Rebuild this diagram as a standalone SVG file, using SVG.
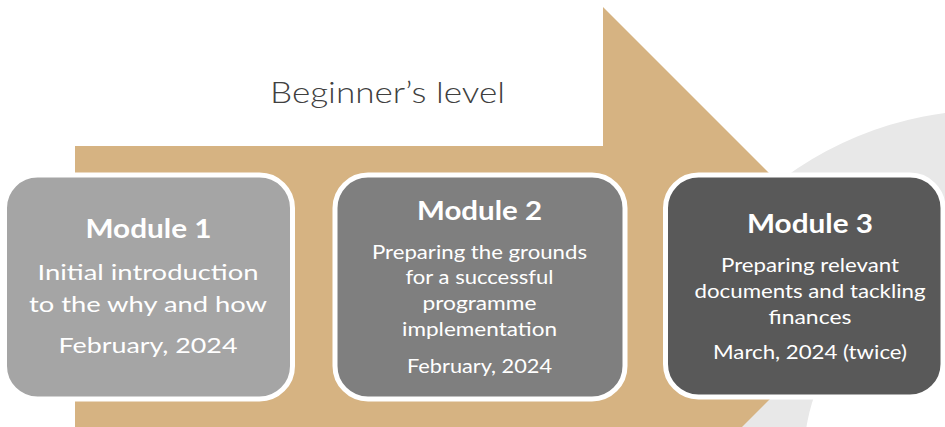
<svg xmlns="http://www.w3.org/2000/svg" width="945" height="427" viewBox="0 0 945 427">
<style>
.box{stroke:#ffffff;stroke-width:5}
.t{font-family:Lato,"Liberation Sans",sans-serif;fill:#ffffff;text-anchor:middle}
.h{font-weight:bold;font-size:27px}
.b1{font-size:21px}
.b2{font-size:18.5px}
.b3{font-size:19px}
.title{font-family:Lato,"Liberation Sans",sans-serif;font-weight:300;font-size:29.5px;fill:#404040;text-anchor:middle}
</style>
<rect width="945" height="427" fill="#ffffff"/>
<g id="background">
<path fill="#e8e8e8" fill-rule="evenodd" d="M643,457 a347,347 0 1,0 694,0 a347,347 0 1,0 -694,0 Z M804,457 a186,186 0 1,0 372,0 a186,186 0 1,0 -372,0 Z"/>
</g>
<g id="connectors">
<path id="arrow" fill="#d6b382" d="M75,146 L603,146 L603,7 L882.5,286.5 L603,566 L603,427 L75,427 Z"/>
</g>
<g id="title">
<text class="title" x="387.5" y="103" textLength="235" lengthAdjust="spacingAndGlyphs">Beginner’s level</text>
</g>
<g id="module1">
<rect class="box" x="4.5" y="175" width="288" height="224" rx="33" fill="#a5a5a5"/>
<text class="t h" x="148.5" y="238" textLength="126" lengthAdjust="spacingAndGlyphs">Module 1</text>
<text class="t b1" x="148" y="280" textLength="221" lengthAdjust="spacingAndGlyphs">Initial introduction</text>
<text class="t b1" x="148" y="312" textLength="238" lengthAdjust="spacingAndGlyphs">to the why and how</text>
<text class="t b1" x="148" y="352.5" textLength="179" lengthAdjust="spacingAndGlyphs">February, 2024</text>
</g>
<g id="module2">
<rect class="box" x="335" y="175" width="290" height="224" rx="33" fill="#7f7f7f"/>
<text class="t h" x="479.5" y="220" textLength="125" lengthAdjust="spacingAndGlyphs">Module 2</text>
<text class="t b2" x="479.5" y="258.5" textLength="215" lengthAdjust="spacingAndGlyphs">Preparing the grounds</text>
<text class="t b2" x="479.5" y="284" textLength="148" lengthAdjust="spacingAndGlyphs">for a successful</text>
<text class="t b2" x="479.5" y="310" textLength="114" lengthAdjust="spacingAndGlyphs">programme</text>
<text class="t b2" x="479.5" y="336" textLength="155" lengthAdjust="spacingAndGlyphs">implementation</text>
<text class="t b2" x="479.5" y="372.5" textLength="145" lengthAdjust="spacingAndGlyphs">February, 2024</text>
</g>
<g id="module3">
<rect class="box" x="665.5" y="175" width="277.5" height="222" rx="33" fill="#595959"/>
<text class="t h" x="810" y="233" textLength="126" lengthAdjust="spacingAndGlyphs">Module 3</text>
<text class="t b3" x="810" y="272" textLength="178" lengthAdjust="spacingAndGlyphs">Preparing relevant</text>
<text class="t b3" x="810" y="297.5" textLength="231" lengthAdjust="spacingAndGlyphs">documents and tackling</text>
<text class="t b3" x="810" y="323.5" textLength="83" lengthAdjust="spacingAndGlyphs">finances</text>
<text class="t b3" x="810" y="359" textLength="194" lengthAdjust="spacingAndGlyphs">March, 2024 (twice)</text>
</g>
</svg>
